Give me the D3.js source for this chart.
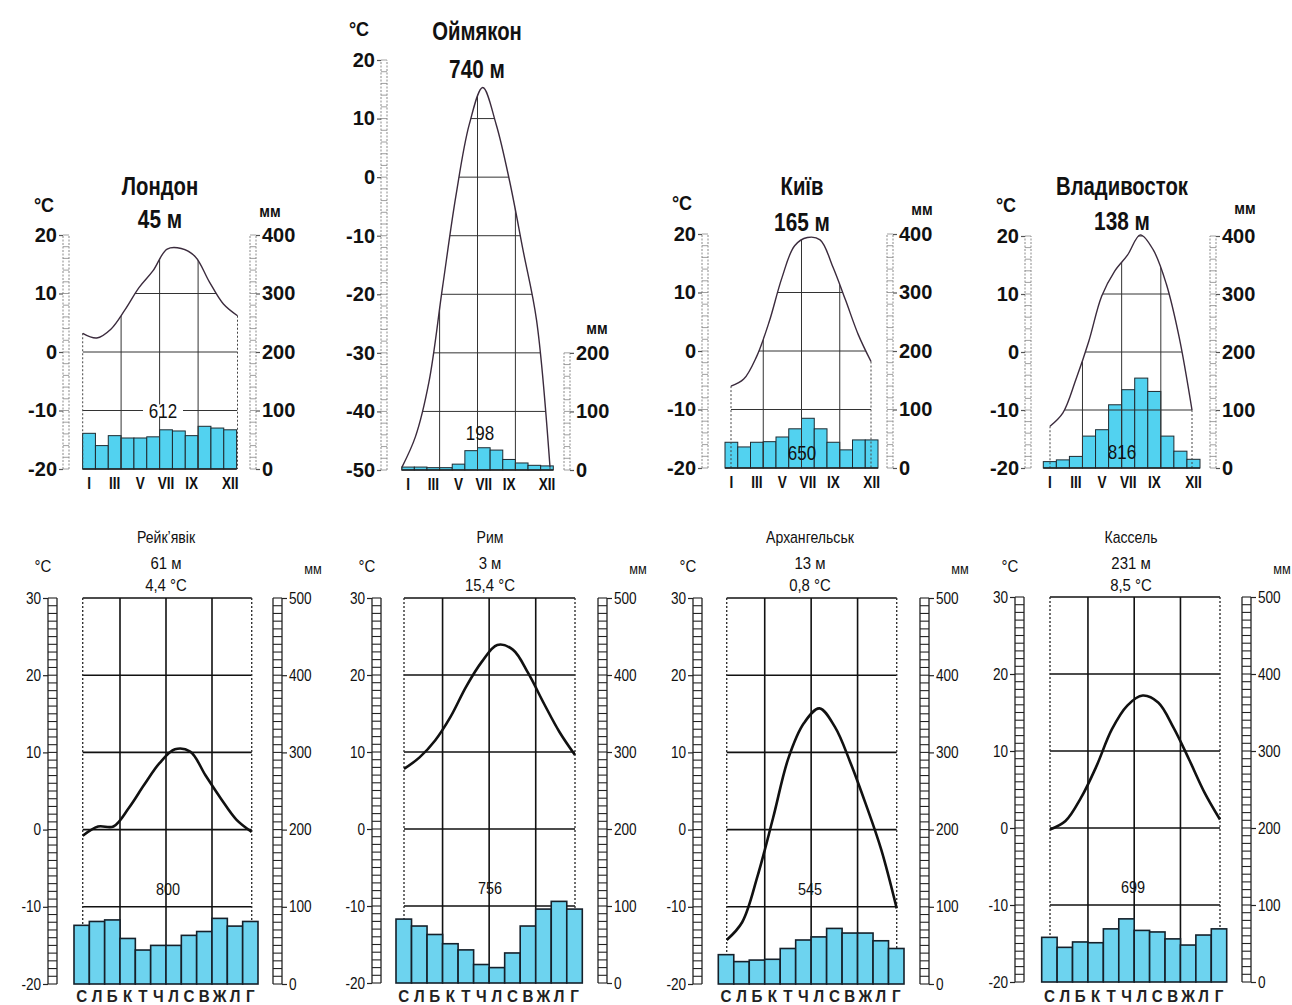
<!DOCTYPE html>
<html><head><meta charset="utf-8">
<script src="https://cdn.jsdelivr.net/npm/d3@7"></script>
<style>body{margin:0;background:#fff}svg{display:block}</style>
</head><body>
<svg id="c" width="1292" height="1005"></svg>
<script>
// ---------- data ----------
const romanMonths = ["I","II","III","IV","V","VI","VII","VIII","IX","X","XI","XII"];
const romanShown = ["I","III","V","VII","IX","XII"];
const ukrMonths = ["С","Л","Б","К","Т","Ч","Л","С","В","Ж","Л","Г"];

const topTempTicks = [20,10,0,-10,-20];
const topPrecipTicks = [400,300,200,100,0];
const oymTempTicks = [20,10,0,-10,-20,-30,-40,-50];
const oymPrecipTicks = [200,100,0];
const botTempTicks = [30,20,10,0,-10,-20];
const botPrecipTicks = [500,400,300,200,100,0];

const londonTemp   = [3.2, 2.4, 3.9, 7.2, 11, 13.9, 17.6, 17.7, 16.3, 12, 8.2, 6.2];
const londonPrecip = [61, 40, 57, 53, 53, 55, 67, 65, 57, 73, 70, 67];
const oymTemp      = [-49.5, -44.3, -35, -19, -3.3, 9, 15.3, 9, -0.7, -12.5, -24.4, -49.5];
const oymPrecip    = [5, 5, 4, 4, 10, 33, 38, 34, 18, 12, 8, 7];
const kyivTemp     = [-6, -4.8, -1, 5, 12.5, 18, 19.4, 19, 14.4, 8.7, 2.8, -1.8];
const kyivPrecip   = [44, 36, 44, 45, 53, 67, 85, 67, 44, 31, 48, 48];
const vladTemp     = [-12.8, -10.5, -4.8, 1.8, 9.6, 13.9, 16.7, 20.2, 17.6, 11.8, 2.6, -10];
const vladPrecip   = [11, 14, 20, 55, 66, 109, 135, 155, 132, 55, 29, 15];

const reykTemp     = [-0.8, 0.4, 0.4, 2.8, 5.8, 8.6, 10.4, 10.1, 7, 4, 1.3, -0.3];
const reykPrecip   = [76, 81, 83, 59, 44, 50, 50, 63, 68, 85, 75, 81];
const romeTemp     = [7.8, 9.3, 11.5, 14.6, 18.5, 21.7, 23.9, 23.3, 20.2, 16.3, 12.6, 9.6];
const romePrecip   = [83, 74, 63, 51, 43, 24, 20, 39, 74, 96, 106, 96];
const arkhTemp     = [-14.3, -12, -6, 1.5, 9.3, 13.8, 15.7, 13.3, 8.7, 3.3, -2.6, -10.2];
const arkhPrecip   = [38, 29, 31, 32, 46, 57, 61, 72, 66, 66, 56, 46];
const kasselTemp   = [-0.2, 0.9, 3.9, 8, 12.8, 15.9, 17.2, 16.3, 13, 8.9, 4.6, 1.1];
const kasselPrecip = [58, 45, 52, 51, 69, 82, 67, 65, 56, 48, 61, 69];

const charts = [
  {type:"top", title:["Лондон","45 м"], temp:londonTemp, precip:londonPrecip, total:"612",
   tMin:-20, tMax:20, pMax:400, tTicks:topTempTicks, pTicks:topPrecipTicks},
  {type:"top", title:["Оймякон","740 м"], temp:oymTemp, precip:oymPrecip, total:"198",
   tMin:-50, tMax:20, pMax:200, tTicks:oymTempTicks, pTicks:oymPrecipTicks},
  {type:"top", title:["Київ","165 м"], temp:kyivTemp, precip:kyivPrecip, total:"650",
   tMin:-20, tMax:20, pMax:400, tTicks:topTempTicks, pTicks:topPrecipTicks},
  {type:"top", title:["Владивосток","138 м"], temp:vladTemp, precip:vladPrecip, total:"816",
   tMin:-20, tMax:20, pMax:400, tTicks:topTempTicks, pTicks:topPrecipTicks},
  {type:"bottom", title:["Рейк’явік","61 м","4,4 °C"], temp:reykTemp, precip:reykPrecip, total:"800",
   tMin:-20, tMax:30, pMax:500, tTicks:botTempTicks, pTicks:botPrecipTicks},
  {type:"bottom", title:["Рим","3 м","15,4 °C"], temp:romeTemp, precip:romePrecip, total:"756",
   tMin:-20, tMax:30, pMax:500, tTicks:botTempTicks, pTicks:botPrecipTicks},
  {type:"bottom", title:["Архангельськ","13 м","0,8 °C"], temp:arkhTemp, precip:arkhPrecip, total:"545",
   tMin:-20, tMax:30, pMax:500, tTicks:botTempTicks, pTicks:botPrecipTicks},
  {type:"bottom", title:["Кассель","231 м","8,5 °C"], temp:kasselTemp, precip:kasselPrecip, total:"699",
   tMin:-20, tMax:30, pMax:500, tTicks:botTempTicks, pTicks:botPrecipTicks}
];

// ---------- layout (positions only) ----------
const layouts = [
  {ladL:63, ladR:250, bx0:82.6, bx1:236.6, lx0:82.7, lx1:237.5, yTop:235, yBot:469,
   titleX:160, titleY:[195,228], degX:44, degY:212, mmX:270, mmY:217, totX:163, totT:-10, totBg:true},
  {ladL:381, ladR:564, bx0:401.7, bx1:553.3, lx0:402, lx1:550, yTop:60, yBot:470,
   titleX:477, titleY:[40,78], degX:359, degY:36, mmX:597, mmY:334, totX:480, totT:-43.7, totBg:false},
  {ladL:702, ladR:887, bx0:725, bx1:878, lx0:731, lx1:871, yTop:234, yBot:468,
   titleX:802, titleY:[195,231], degX:682, degY:210, mmX:922, mmY:215, totX:802, totT:-17.4, totBg:false},
  {ladL:1025, ladR:1210, bx0:1043.3, bx1:1200, lx0:1050, lx1:1192, yTop:236, yBot:468,
   titleX:1122, titleY:[195,230], degX:1006, degY:212, mmX:1245, mmY:214, totX:1122, totT:-17.3, totBg:false},
  {ladL:48, ladR:273, bx0:74, bx1:258, lx0:82.7, lx1:251.7, yTop:598, yBot:984,
   titleX:166, totX:168},
  {ladL:372, ladR:598, bx0:396, bx1:582.3, lx0:404, lx1:575, yTop:598, yBot:983,
   titleX:490, totX:490},
  {ladL:693, ladR:920, bx0:718.3, bx1:904, lx0:726.7, lx1:896.7, yTop:598, yBot:984,
   titleX:810, totX:810},
  {ladL:1015, ladR:1242, bx0:1041.7, bx1:1226.7, lx0:1050, lx1:1220, yTop:597, yBot:982,
   titleX:1131, totX:1133}
];

const SANS = "'Liberation Sans',Arial,sans-serif";
const svg = d3.select("#c");

function ctext(sel, x, y, str, o) {
  o = Object.assign({size:16, weight:"normal", anchor:"middle", sx:0.8, fill:"#111"}, o || {});
  return sel.append("text")
    .attr("transform", `translate(${x},${y}) scale(${o.sx},1)`)
    .attr("text-anchor", o.anchor).attr("font-family", SANS)
    .attr("font-size", o.size).attr("font-weight", o.weight).attr("fill", o.fill).text(str);
}

function drawChart(c, L, idx) {
  const top = c.type === "top";
  const g = svg.append("g");
  const y = d3.scaleLinear().domain([c.tMin, c.tMax]).range([L.yBot, L.yTop]);
  const yP = d3.scaleLinear().domain([0, c.pMax]).range([y(c.tMin), y(c.tMin + c.pMax / 10)]);
  const xB = d3.scaleBand().domain(d3.range(12)).range([L.bx0, L.bx1]).padding(0);
  const xL = d3.scaleLinear().domain([0, 11]).range([L.lx0, L.lx1]);
  const curve = d3.curveCatmullRom.alpha(0.5);
  const line = d3.line().x((d, i) => xL(i)).y(d => y(d)).curve(curve);
  const ladW = top ? 6 : 9;
  const ladColor = top ? "#8a8a8a" : "#222";

  function ladder(x, scale, lo, hi, step) {
    const lg = g.append("g");
    [x, x + ladW].forEach(xx => lg.append("line")
      .attr("x1", xx).attr("x2", xx).attr("y1", scale(lo)).attr("y2", scale(hi))
      .attr("stroke", ladColor).attr("stroke-width", top ? 1 : 1.3)
      .attr("stroke-dasharray", top ? "2,1.5" : null));
    lg.selectAll("line.r").data(d3.range(lo, hi + 0.001, step)).join("line").attr("class", "r")
      .attr("x1", x).attr("x2", x + ladW).attr("y1", d => scale(d)).attr("y2", d => scale(d))
      .attr("stroke", ladColor).attr("stroke-width", top ? 0.8 : 1.1);
  }
  ladder(L.ladL, y, c.tMin, c.tMax, top ? 2 : 1);
  ladder(L.ladR, yP, 0, c.pMax, top ? 20 : 10);

  const fmt = d => String(d);
  const axL = g.append("g").attr("transform", `translate(${L.ladL},0)`)
    .call(d3.axisLeft(y).tickValues(c.tTicks).tickSize(top ? 4 : 5).tickPadding(2).tickFormat(fmt));
  const axR = g.append("g").attr("transform", `translate(${L.ladR + ladW},0)`)
    .call(d3.axisRight(yP).tickValues(c.pTicks).tickSize(top ? 4 : 5).tickPadding(2).tickFormat(fmt));
  [axL, axR].forEach(ax => {
    ax.select(".domain").remove();
    ax.selectAll(".tick line").attr("stroke", top ? "#555" : "#222").attr("stroke-width", 1.2);
    ax.selectAll(".tick text").attr("font-family", SANS).attr("font-size", top ? 20 : 16)
      .attr("font-weight", top ? "bold" : "normal").attr("fill", "#111");
    if (!top) ax.selectAll(".tick text").each(function () {
      const t = d3.select(this);
      const x = +t.attr("x");
      t.attr("transform", `translate(${x},0) scale(0.85,1) translate(${-x},0)`);
    });
  });

  const gridColor = top ? "#333" : "#111";
  const gridW = top ? 1 : 1.6;

  if (top) {
    g.append("g").selectAll("rect").data(c.precip).join("rect")
      .attr("x", (d, i) => xB(i)).attr("width", xB.bandwidth())
      .attr("y", d => yP(d)).attr("height", d => yP(0) - yP(d))
      .attr("fill", "#52d2f0").attr("stroke", "#1e2a30").attr("stroke-width", 1);
    const clipId = "clip" + idx;
    g.append("clipPath").attr("id", clipId).append("path")
      .attr("d", d3.area().x((d, i) => xL(i)).y0(y(c.tMin)).y1(d => y(d)).curve(curve)(c.temp));
    const grid = g.append("g").attr("clip-path", `url(#${clipId})`);
    grid.selectAll("line.h").data(d3.range(c.tMin + 10, c.tMax + 1, 10)).join("line").attr("class", "h")
      .attr("x1", L.lx0).attr("x2", L.lx1).attr("y1", d => y(d)).attr("y2", d => y(d))
      .attr("stroke", gridColor).attr("stroke-width", gridW);
    grid.selectAll("line.v").data([3, 6, 9]).join("line").attr("class", "v")
      .attr("x1", d => xB(d)).attr("x2", d => xB(d)).attr("y1", y(c.tMax)).attr("y2", y(c.tMin))
      .attr("stroke", gridColor).attr("stroke-width", gridW);
    [[0, c.temp[0]], [11, c.temp[11]]].forEach(([i, t]) => g.append("line")
      .attr("x1", xL(i)).attr("x2", xL(i)).attr("y1", y(t)).attr("y2", y(c.tMin))
      .attr("stroke", "#444").attr("stroke-width", 1).attr("stroke-dasharray", "2,2"));
    g.append("line").attr("x1", L.bx0).attr("x2", L.bx1).attr("y1", y(c.tMin)).attr("y2", y(c.tMin))
      .attr("stroke", "#222").attr("stroke-width", 1.6);
    g.append("path").attr("d", line(c.temp)).attr("fill", "none")
      .attr("stroke", "#3b2b3d").attr("stroke-width", 1.4).attr("stroke-linejoin", "round");
    const mg = g.append("g");
    romanShown.forEach(m => {
      const i = romanMonths.indexOf(m);
      ctext(mg, xB(i) + xB.bandwidth() / 2, y(c.tMin) + 20, m, {size:16, weight:"bold", sx:0.85});
    });
    ctext(g, L.titleX, L.titleY[0], c.title[0], {size:26, weight:"bold", sx:0.78});
    ctext(g, L.titleX, L.titleY[1], c.title[1], {size:26, weight:"bold", sx:0.8});
    ctext(g, L.degX, L.degY, "°C", {size:20, weight:"bold", sx:0.9});
    ctext(g, L.mmX, L.mmY, "мм", {size:17, weight:"bold", sx:0.85});
    const tg = g.append("g");
    ctext(tg, L.totX, y(L.totT) + 7, c.total, {size:20, sx:0.85});
    if (L.totBg) {
      tg.insert("rect", "text").attr("x", L.totX - 20).attr("y", y(L.totT) - 6)
        .attr("width", 40).attr("height", 12).attr("fill", "#fff");
    }
  } else {
    const grid = g.append("g");
    grid.selectAll("line.h").data(d3.range(c.tMin + 10, c.tMax + 1, 10)).join("line").attr("class", "h")
      .attr("x1", L.lx0).attr("x2", L.lx1).attr("y1", d => y(d)).attr("y2", d => y(d))
      .attr("stroke", gridColor).attr("stroke-width", gridW);
    grid.selectAll("line.v").data([3, 6, 9]).join("line").attr("class", "v")
      .attr("x1", d => xB(d)).attr("x2", d => xB(d)).attr("y1", y(c.tMax)).attr("y2", y(c.tMin))
      .attr("stroke", gridColor).attr("stroke-width", gridW);
    [L.lx0, L.lx1].forEach(x => grid.append("line")
      .attr("x1", x).attr("x2", x).attr("y1", y(c.tMax)).attr("y2", y(c.tMin))
      .attr("stroke", "#333").attr("stroke-width", 1.4).attr("stroke-dasharray", "2,2"));
    g.append("g").selectAll("rect").data(c.precip).join("rect")
      .attr("x", (d, i) => xB(i)).attr("width", xB.bandwidth())
      .attr("y", d => yP(d)).attr("height", d => yP(0) - yP(d))
      .attr("fill", "#6dd3ef").attr("stroke", "#15202a").attr("stroke-width", 1.6);
    g.append("path").attr("d", line(c.temp)).attr("fill", "none")
      .attr("stroke", "#111").attr("stroke-width", 2.6).attr("stroke-linejoin", "round");
    const mg = g.append("g");
    ukrMonths.forEach((m, i) => ctext(mg, xB(i) + xB.bandwidth() / 2, 1002, m,
      {size:16, weight:"bold", sx:0.95, fill:"#222"}));
    const ty = [543, 569, 591];
    c.title.forEach((t, i) => ctext(g, L.titleX, ty[i], t, {size:i === 0 ? 16 : 17, sx:0.88}));
    ctext(g, L.ladL - 5, 572, "°C", {size:17, sx:0.88});
    ctext(g, L.ladR + 40, 574, "мм", {size:15, sx:0.85});
    ctext(g, L.totX, y(-7.66) + 6, c.total, {size:17, sx:0.85});
  }
}

charts.forEach((c, i) => drawChart(c, layouts[i], i));
</script>
</body></html>
